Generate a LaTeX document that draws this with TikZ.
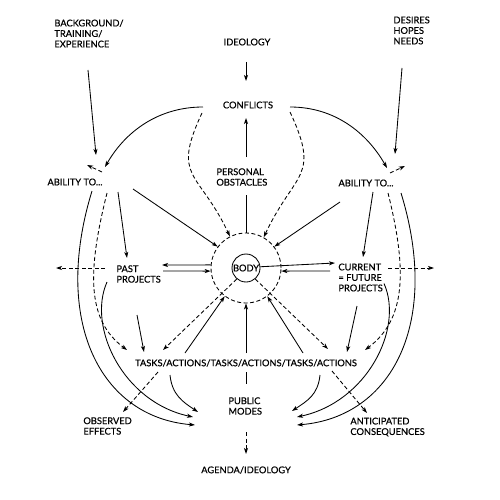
\documentclass[tikz,border=0pt]{standalone}
\usepackage{fontspec}
\setmainfont{Lato}[FakeBold=0.5]
\usetikzlibrary{arrows.meta}
\begin{document}
\begin{tikzpicture}[x=1pt, y=-1pt, >={Stealth[length=6pt, width=4pt, inset=1.5pt]}, line width=0.85pt,
    lbl/.style={font=\fontsize{9.3}{10.5}\selectfont, inner sep=0pt, align=left},
    dsh/.style={dash pattern=on 4pt off 2.5pt}]
    \useasboundingbox (0, 0) rectangle (500, 500);
    \node[lbl, anchor=west] (bg) at (54, 33.5) {BACKGROUND/\\TRAINING/\\EXPERIENCE};
    \node[lbl, anchor=west] (dhn) at (393, 30.5) {DESIRES\\HOPES\\NEEDS};
    \node[lbl] (ideo) at (247, 42) {IDEOLOGY};
    \node[lbl] (confl) at (248, 105) {CONFLICTS};
    \node[lbl, anchor=west] (obst) at (216, 177) {PERSONAL\\OBSTACLES};
    \node[lbl] (ablL) at (75, 182) {ABILITY TO...};
    \node[lbl] (ablR) at (366, 183) {ABILITY TO...};
    \node[lbl, anchor=west] (past) at (116, 274) {PAST\\PROJECTS};
    \node[lbl, anchor=west] (curr) at (338, 277.5) {CURRENT\\= FUTURE\\PROJECTS};
    \node[lbl] (tasks) at (246, 363) {TASKS/ACTIONS/TASKS/ACTIONS/TASKS/ACTIONS};
    \node[lbl, anchor=west] (pub) at (228, 406) {PUBLIC\\MODES};
    \node[lbl] (agenda) at (246, 470) {AGENDA/IDEOLOGY};
    \node[lbl, anchor=west] (obs) at (83, 426) {OBSERVED\\EFFECTS};
    \node[lbl, anchor=west] (antic) at (350, 427) {ANTICIPATED\\CONSEQUENCES};
    \node[draw, circle, dsh, minimum size=70pt, inner sep=0pt] (ring) at (246, 268) {};
    \node[lbl, draw, circle, minimum size=28pt] (body) at (246, 268) {BODY};
    \coordinate (pastout) at (56, 268);
    \coordinate (currout) at (434, 268);
    \draw [->] ([shift={(34,36.5)}]bg.west) to ([shift={(21,-27)}]ablL.center);
    \draw [->] ([shift={(9,37.5)}]dhn.west) to ([shift={(29,-29)}]ablR.center);
    \draw [->] ([shift={(-1,20)}]ideo.center) to ([shift={(-2,-24)}]confl.center);
    \draw [->] ([shift={(30,-20)}]obst.west) to ([shift={(-2,13)}]confl.center);
    \draw ([shift={(30,18)}]obst.west) to (ring.north);
    \draw [->] ([shift={(-45,2)}]confl.center) .. controls +(-45,0) and +(20,-35) .. ([shift={(30,-15)}]ablL.center);
    \draw [->] ([shift={(42,2)}]confl.center) .. controls +(45,0) and +(-20,-35) .. ([shift={(21,-15)}]ablR.center);
    \draw [->, dsh] ([shift={(-46,8)}]confl.center) .. controls +(-31,66) and +(-31,-66) .. (ring.117);
    \draw [->, dsh] ([shift={(42,7)}]confl.center) .. controls +(31,66) and +(31,-66) .. (ring.60);
    \draw [->, dsh] ([shift={(27,-10)}]ablL.center) to ([shift={(12,-17)}]ablL.center);
    \draw [->, dsh] ([shift={(24,-10)}]ablR.center) to ([shift={(39,-17)}]ablR.center);
    \draw [->] ([shift={(58,7)}]ablL.center) to (ring.143);
    \draw [->] ([shift={(-26,19)}]ablR.center) to (ring.37);
    \draw [->] ([shift={(43,10)}]ablL.center) to ([shift={(11,-16)}]past.west);
    \draw [->] ([shift={(7,9)}]ablR.center) to ([shift={(25,-20.5)}]curr.west);
    \draw [->, dsh] ([shift={(-11,-6)}]past.west) to (pastout);
    \draw [->, dsh] ([shift={(50,-9.5)}]curr.west) to (currout);
    \draw [->] (ring.175) to ([shift={(46,-9)}]past.west);
    \draw [->] ([shift={(47,-3)}]past.west) to (ring.185);
    \draw [->] (body.5) to ([shift={(-3,-14.5)}]curr.west);
    \draw [->] ([shift={(-8,-6.5)}]curr.west) to (ring.-5);
    \draw [->, dsh] (body.-130) to ([shift={(-83,-13)}]tasks.center);
    \draw [->, dsh] (body.-50) to ([shift={(82,-14)}]tasks.center);
    \draw [->] ([shift={(-61,-10)}]tasks.center) to (ring.-127);
    \draw [->] ([shift={(0,-10)}]tasks.center) to (ring.south);
    \draw [->] ([shift={(57,-10)}]tasks.center) to (ring.-53);
    \draw [->] ([shift={(21,41)}]past.west) to ([shift={(-102,-11)}]tasks.center);
    \draw [->] ([shift={(19,28.5)}]curr.west) to ([shift={(101,-11)}]tasks.center);
    \draw [->, dsh] ([shift={(32,11)}]ablL.center) .. controls +(-20,80) and +(-40,-30) .. ([shift={(-119,-13)}]tasks.center);
    \draw [->, dsh] ([shift={(22,10)}]ablR.center) .. controls +(20,80) and +(40,-30) .. ([shift={(119,-13)}]tasks.center);
    \draw [->] ([shift={(17,9)}]ablL.center) .. controls +(-40,130) and +(-95,-8) .. ([shift={(-33,19)}]pub.west);
    \draw [->] ([shift={(35,10)}]ablR.center) .. controls +(40,130) and +(95,-8) .. ([shift={(69,19)}]pub.west);
    \draw [->] ([shift={(-9,8)}]past.west) .. controls +(-20,45) and +(-70,-15) .. ([shift={(-35,11)}]pub.west);
    \draw [->] ([shift={(46,6)}]curr.west) .. controls +(20,45) and +(70,-15) .. ([shift={(69,11)}]pub.west);
    \draw [->] ([shift={(-76,12)}]tasks.center) .. controls +(2,20) and +(-15,-10) .. ([shift={(-30,6)}]pub.west);
    \draw [->] ([shift={(74,12)}]tasks.center) .. controls +(-2,20) and +(15,-10) .. ([shift={(64,5)}]pub.west);
    \draw [->, dsh] ([shift={(-88,9)}]tasks.center) to ([shift={(40,-14)}]obs.west);
    \draw [->, dsh] ([shift={(86,8)}]tasks.center) to ([shift={(17,-14)}]antic.west);
    \draw ([shift={(0,9)}]tasks.center) to ([shift={(18,-22)}]pub.west);
    \draw [->, dsh] ([shift={(18,26)}]pub.west) to ([shift={(0,-16)}]agenda.center);
\end{tikzpicture}
\end{document}
